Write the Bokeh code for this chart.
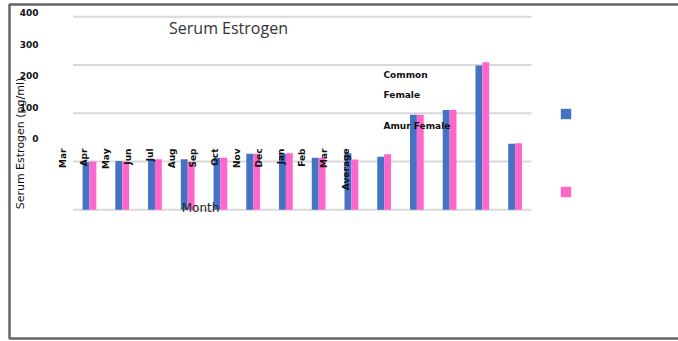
import math
from bokeh.plotting import figure
from bokeh.models import Range1d, ColumnDataSource, Legend, LegendItem
from bokeh.transform import dodge
from bokeh.core.properties import value
from bokeh.embed import file_html
from bokeh.resources import INLINE

# ---------------- data ----------------
title = "Serum Estrogen"
y_title = "Serum Estrogen (pg/ml)"
x_title = "Month"
months = ["Mar", "Apr", "May", "Jun", "Jul", "Aug", "Sep", "Oct", "Nov",
          "Dec", "Jan", "Feb", "Mar", "Average"]
series_names = ["Common Female", "Amur Female"]
common_female = [99, 101, 105, 105, 108, 116, 116, 108, 117, 110, 197, 207, 299, 137]
amur_female = [100, 100, 105, 99, 108, 116, 117, 108, 104, 115, 197, 207, 306, 138]
y_ticks = [0, 100, 200, 300, 400]

# ---------------- layout (pixels) ----------------
W, H = 678, 341
X0_PX, DX_PX = 88.97, 32.74      # centre of first category, category pitch
Y0_PX, DY_PX = 209.3, 0.4825     # value-0 baseline, pixels per unit
LAB_X0, LAB_DX = 62.0, 21.8      # rotated category labels
TICK_Y0, TICK_DY = 138.3, 0.316  # tick-label scale

BLUE = "#4472C4"
PINK = "#FF66CC"
FONT = "DejaVu Sans"


def px2x(px):
    return (px - X0_PX) / DX_PX


def py2y(py):
    return (Y0_PX - py) / DY_PX


p = figure(width=W, height=H, output_backend="svg", toolbar_location=None,
           x_range=Range1d(px2x(0), px2x(W)), y_range=Range1d(py2y(H), py2y(0)),
           x_axis_location=None, y_axis_location=None, min_border=0,
           title=None)
p.min_border_left = p.min_border_right = p.min_border_top = p.min_border_bottom = 0
p.grid.visible = False
p.outline_line_color = None
p.background_fill_color = "white"
p.border_fill_color = "white"

p.extra_x_ranges = {"xlab": Range1d(-LAB_X0 / LAB_DX, (W - LAB_X0) / LAB_DX)}
p.extra_y_ranges = {"ylab": Range1d((TICK_Y0 - H) / TICK_DY, TICK_Y0 / TICK_DY)}

# outer chart border
p.line(x=[px2x(W + 5), px2x(9), px2x(9), px2x(W + 5)],
       y=[py2y(4), py2y(4), py2y(338), py2y(338)],
       line_color="#666666", line_width=2.5)

# gridlines
n = len(months)
p.segment(x0=[-0.5] * len(y_ticks), x1=[n - 0.5] * len(y_ticks),
          y0=y_ticks, y1=y_ticks, line_color="#D9D9D9", line_width=2)

src = ColumnDataSource(dict(x=list(range(n)), common=common_female, amur=amur_female))
rb = p.vbar(x=dodge("x", -0.105), top="common", width=0.21, source=src,
            fill_color=BLUE, line_color=None)
rp = p.vbar(x=dodge("x", 0.105), top="amur", width=0.21, source=src,
            fill_color=PINK, line_color=None)

# legend squares (labels are drawn separately, as in the reference)
legend = Legend(items=[LegendItem(label=" ", renderers=[rb]),
                       LegendItem(label=" ", renderers=[rp])],
                location=(559, 143), glyph_width=13, glyph_height=13,
                label_height=13, label_width=0, label_standoff=0,
                label_text_font_size="1px", spacing=65, padding=0, margin=0,
                border_line_color=None, background_fill_alpha=0)
p.add_layout(legend, "center")

# tick labels
p.text(x=[px2x(38)] * len(y_ticks), y=y_ticks, text=[str(t) for t in y_ticks],
       y_range_name="ylab", text_align="right", text_baseline="middle",
       text_font=value(FONT), text_font_size="9px", text_font_style="bold",
       text_color="#111111")

# rotated category labels
p.text(x=list(range(n)), y=[py2y(148)] * n, text=months, x_range_name="xlab",
       angle=math.pi / 2, text_align="right", text_baseline="middle",
       text_font=value(FONT), text_font_size="9px", text_font_style="bold",
       text_color="#111111")

# title
p.text(x=[px2x(228)], y=[py2y(27)], text=[title], text_align="center",
       text_baseline="alphabetic", text_font=value("Open Sans"),
       text_font_size="16px", text_color="#333333")

# axis titles
p.text(x=[px2x(20)], y=[py2y(143)], text=[y_title], angle=math.pi / 2,
       text_align="center", text_baseline="middle", text_font=value(FONT),
       text_font_size="11px", text_color="#111111")
p.text(x=[px2x(200)], y=[py2y(207)], text=[x_title], text_align="center",
       text_baseline="middle", text_font=value(FONT), text_font_size="12px",
       text_color="#222222")

# series names
p.text(x=[px2x(383)] * 2, y=[py2y(69), py2y(120)],
       text=[series_names[0].replace(" ", "\n"), series_names[1]],
       text_align="left", text_baseline="top", text_line_height=2.0,
       text_font=value(FONT), text_font_size="9px", text_font_style="bold",
       text_color="#111111")

open("out.html", "w").write(file_html(p, INLINE))
